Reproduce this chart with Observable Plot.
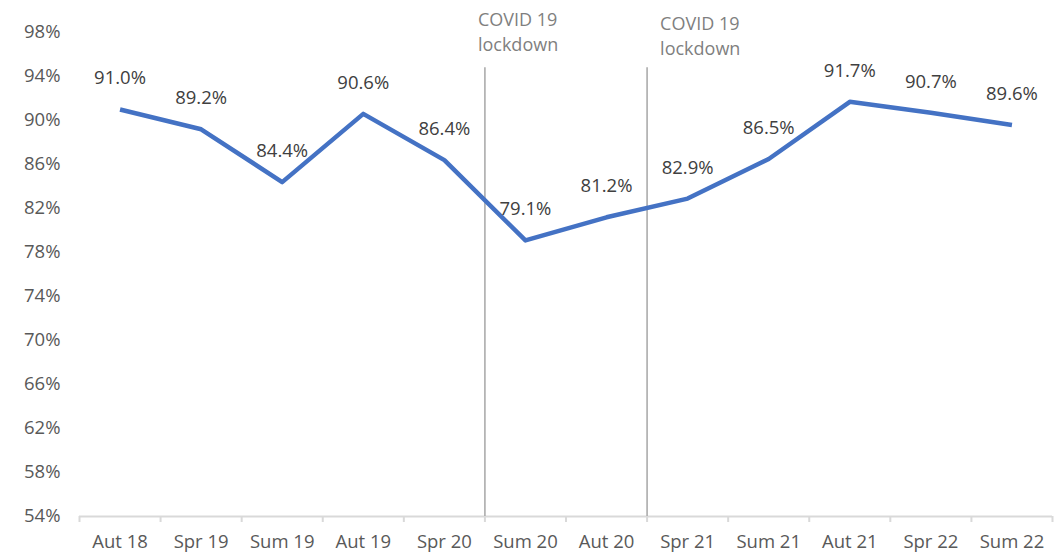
<!DOCTYPE html>
<html>
<head>
<meta charset="utf-8">
<script src="https://cdn.jsdelivr.net/npm/d3@7"></script>
<script src="https://cdn.jsdelivr.net/npm/@observablehq/plot@0.6"></script>
<style>
  html, body { margin: 0; padding: 0; background: #fff; }
  #chart svg { display: block; }
</style>
</head>
<body>
<div id="chart"></div>
<script>
const categories = ["Aut 18","Spr 19","Sum 19","Aut 19","Spr 20","Sum 20","Aut 20","Spr 21","Sum 21","Aut 21","Spr 22","Sum 22"];
const values = [91.0, 89.2, 84.4, 90.6, 86.4, 79.1, 81.2, 82.9, 86.5, 91.7, 90.7, 89.6];
const yTicks = [54, 58, 62, 66, 70, 74, 78, 82, 86, 90, 94, 98];
const lockdownBoundaries = [5, 7]; // boundary index before "Sum 20" and "Spr 21"
const lockdownLabel = "COVID 19\nlockdown";

const data = categories.map((c, i) => ({cat: c, pos: i + 0.5, value: values[i]}));
const boundaries = d3.range(categories.length + 1);

const font = "'Open Sans', Lato, sans-serif";

const chart = Plot.plot({
  width: 1063,
  height: 552,
  marginLeft: 79,
  marginRight: 11,
  marginTop: 32,
  marginBottom: 36,
  style: {fontFamily: font, background: "#fff"},
  x: {type: "linear", domain: [0, categories.length], axis: null},
  y: {type: "linear", domain: [54, 98], axis: null},
  marks: [
    // y labels
    Plot.axisY(yTicks, {
      tickSize: 0, tickPadding: 19, tickFormat: d => d + "%",
      fontSize: 18.5, fill: "#595959", label: null
    }),
    // x baseline
    Plot.ruleY([54], {stroke: "#d9d9d9", strokeWidth: 2}),
    // boundary ticks
    Plot.axisX(boundaries, {
      tickSize: 6, tickFormat: () => "", stroke: "#d9d9d9", strokeWidth: 2, label: null
    }),
    // category labels
    Plot.text(data, {
      x: "pos", y: 54, text: "cat", dy: 26, fontSize: 18.5, fill: "#595959"
    }),
    // lockdown lines
    Plot.ruleX(lockdownBoundaries, {x: d => d, y1: 54, y2: 94.8, stroke: "#a6a6a6", strokeWidth: 1.5}),
    Plot.text([lockdownBoundaries[0]], {
      x: d => d, y: 98.2, text: () => lockdownLabel, textAnchor: "start",
      dx: -7, fontSize: 18, lineHeight: 1.38, fill: "#7f7f7f"
    }),
    Plot.text([lockdownBoundaries[1]], {
      x: d => d, y: 97.8, text: () => lockdownLabel, textAnchor: "start",
      dx: 13, fontSize: 18, lineHeight: 1.38, fill: "#7f7f7f"
    }),
    // series line
    Plot.line(data, {x: "pos", y: "value", stroke: "#4472C4", strokeWidth: 4.5, strokeLinejoin: "round", strokeLinecap: "butt"}),
    // data labels
    Plot.text(data, {
      x: "pos", y: "value", text: d => d.value.toFixed(1) + "%",
      dy: -31, fontSize: 18.5, fill: "#404040"
    })
  ]
});

document.getElementById("chart").appendChild(chart);
</script>
</body>
</html>
